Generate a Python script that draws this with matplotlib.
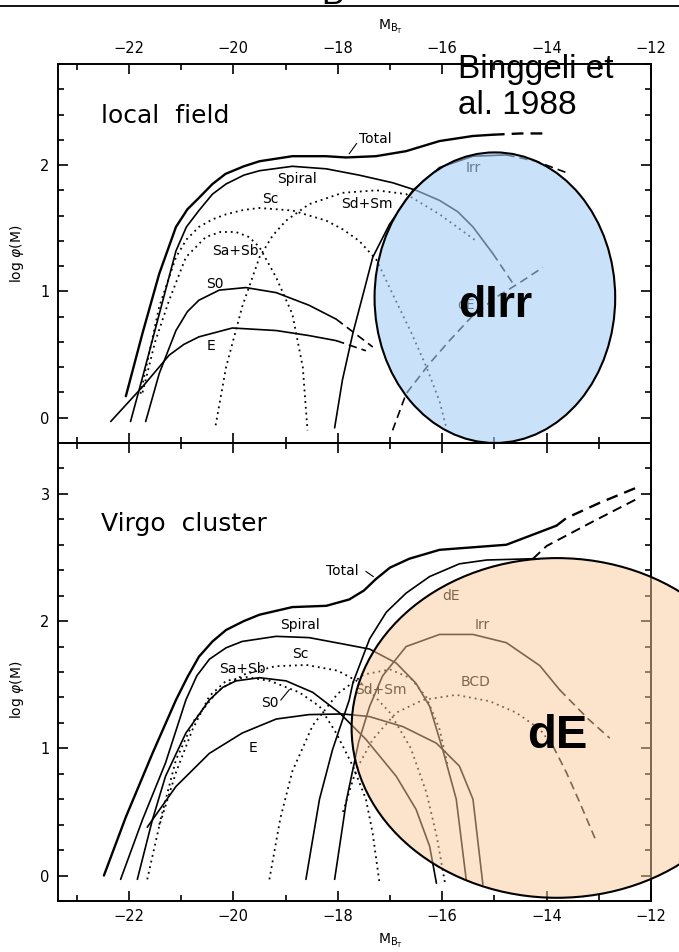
import matplotlib
matplotlib.use("Agg")
import matplotlib.pyplot as plt
from matplotlib.patches import Ellipse
from matplotlib.lines import Line2D
from matplotlib.ticker import MultipleLocator

plt.rcParams['font.family'] = ['DejaVu Sans']

# ---- local field (top panel): M_BT vs log phi(M) ----
lf_total_x = [-22.06, -21.74, -21.42, -21.10, -20.88, -20.66, -20.40, -20.15, -19.80, -19.50, -18.87, -18.23, -17.84, -17.27, -16.69, -16.05, -15.41, -15.03]
lf_total_y = [0.17, 0.67, 1.14, 1.51, 1.65, 1.74, 1.85, 1.93, 1.99, 2.03, 2.07, 2.07, 2.06, 2.07, 2.11, 2.19, 2.23, 2.24]
lf_total_dx = [-15.03, -14.5, -14.03]
lf_total_dy = [2.24, 2.25, 2.25]

lf_spiral_x = [-21.97, -21.74, -21.42, -21.10, -20.90, -20.66, -20.40, -20.14, -19.80, -19.50, -18.87, -18.22, -17.59, -16.95, -16.50, -16.05, -15.70, -15.41, -15.03]
lf_spiral_y = [-0.03, 0.32, 0.82, 1.32, 1.51, 1.64, 1.77, 1.85, 1.92, 1.955, 1.99, 1.97, 1.92, 1.86, 1.80, 1.72, 1.63, 1.51, 1.30]
lf_spiral_dx = [-15.03, -14.64]
lf_spiral_dy = [1.30, 1.06]

lf_sc_x = [-21.78, -21.42, -21.10, -20.90, -20.66, -20.40, -20.14, -19.80, -19.50, -18.87, -18.22, -17.90, -17.59, -17.26, -16.95, -16.60, -16.30, -16.05, -15.92]
lf_sc_y = [0.19, 0.88, 1.27, 1.41, 1.51, 1.57, 1.61, 1.645, 1.66, 1.64, 1.56, 1.49, 1.40, 1.25, 0.98, 0.68, 0.40, 0.13, -0.08]

lf_sab_x = [-21.74, -21.50, -21.23, -20.91, -20.53, -20.25, -19.95, -19.70, -19.50, -19.18, -18.87, -18.67, -18.58]
lf_sab_y = [0.20, 0.60, 0.93, 1.27, 1.43, 1.47, 1.47, 1.43, 1.35, 1.11, 0.82, 0.40, -0.10]

lf_sdsm_x = [-20.34, -20.14, -19.83, -19.50, -19.25, -18.99, -18.55, -17.91, -17.26, -16.69, -16.05, -15.35]
lf_sdsm_y = [-0.06, 0.40, 0.88, 1.27, 1.44, 1.56, 1.69, 1.78, 1.80, 1.77, 1.61, 1.40]

lf_s0_x = [-21.68, -21.42, -21.10, -20.88, -20.66, -20.27, -19.76, -19.18, -18.55, -18.03]
lf_s0_y = [-0.03, 0.35, 0.69, 0.84, 0.93, 1.01, 1.03, 0.99, 0.89, 0.78]
lf_s0_dx = [-18.03, -17.33]
lf_s0_dy = [0.78, 0.56]

lf_e_x = [-22.35, -21.74, -21.23, -20.95, -20.66, -20.02, -19.18, -18.55, -18.03]
lf_e_y = [-0.03, 0.245, 0.495, 0.58, 0.64, 0.71, 0.69, 0.65, 0.61]
lf_e_dx = [-18.03, -17.46]
lf_e_dy = [0.61, 0.53]

lf_irr_x = [-18.06, -17.91, -17.71, -17.50, -17.33, -17.01, -16.56, -16.05, -15.41, -14.77]
lf_irr_y = [-0.08, 0.30, 0.67, 1.00, 1.27, 1.53, 1.80, 1.98, 2.07, 2.08]
lf_irr_dx = [-14.77, -14.20, -13.62]
lf_irr_dy = [2.08, 2.03, 1.94]

lf_de_dx = [-16.95, -16.69, -16.24, -15.86, -15.41, -14.96, -14.51, -14.07]
lf_de_dy = [-0.10, 0.19, 0.43, 0.61, 0.81, 0.955, 1.07, 1.19]

# ---- Virgo cluster (bottom panel) ----
vc_total_x = [-22.48, -22.06, -21.55, -21.10, -20.88, -20.66, -20.40, -20.14, -19.80, -19.50, -18.87, -18.22, -17.78, -17.50, -17.27, -17.00, -16.63, -16.05, -15.41, -14.77, -14.13, -13.81]
vc_total_y = [0.0, 0.46, 0.96, 1.38, 1.56, 1.72, 1.84, 1.93, 2.00, 2.05, 2.11, 2.12, 2.17, 2.24, 2.33, 2.42, 2.49, 2.56, 2.58, 2.60, 2.70, 2.75]
vc_total_dx = [-13.81, -13.62, -12.98, -12.27]
vc_total_dy = [2.75, 2.81, 2.93, 3.05]

vc_spiral_x = [-22.16, -21.74, -21.30, -20.91, -20.70, -20.46, -20.14, -19.83, -19.18, -18.55, -17.90, -17.39, -16.88, -16.50, -16.24, -15.99, -15.73, -15.54]
vc_spiral_y = [-0.03, 0.44, 0.885, 1.38, 1.57, 1.70, 1.79, 1.84, 1.88, 1.87, 1.82, 1.78, 1.67, 1.51, 1.33, 0.99, 0.60, -0.03]

vc_s0_x = [-21.84, -21.55, -21.30, -20.91, -20.46, -20.20, -19.95, -19.50, -18.99, -18.48, -17.97, -17.46, -16.88, -16.50, -16.24, -16.11]
vc_s0_y = [-0.03, 0.44, 0.78, 1.12, 1.38, 1.48, 1.53, 1.555, 1.53, 1.44, 1.28, 1.07, 0.78, 0.52, 0.23, -0.06]

vc_e_x = [-21.65, -21.10, -20.46, -19.83, -19.18, -18.55, -17.91, -17.40, -16.75, -16.11, -15.67, -15.41, -15.22]
vc_e_y = [0.38, 0.70, 0.96, 1.12, 1.23, 1.265, 1.27, 1.25, 1.17, 1.04, 0.86, 0.60, -0.07]

vc_sab_x = [-21.65, -21.42, -21.10, -20.78, -20.46, -20.14, -19.76, -19.30, -18.74, -18.35, -18.03, -17.71, -17.46, -17.33, -17.20]
vc_sab_y = [-0.03, 0.39, 0.81, 1.15, 1.41, 1.53, 1.56, 1.53, 1.44, 1.33, 1.12, 0.86, 0.60, 0.33, -0.06]

vc_sc_x = [-21.42, -21.10, -20.75, -20.30, -19.80, -19.20, -18.60, -18.00, -17.50, -17.00, -16.60, -16.30, -16.10, -15.95]
vc_sc_y = [0.40, 0.91, 1.22, 1.45, 1.58, 1.645, 1.655, 1.61, 1.50, 1.28, 1.00, 0.65, 0.30, -0.05]

vc_sdsm_x = [-19.31, -19.10, -18.87, -18.48, -18.00, -17.50, -17.00, -16.60, -16.30, -16.05, -15.90]
vc_sdsm_y = [-0.03, 0.45, 0.82, 1.18, 1.43, 1.58, 1.62, 1.55, 1.40, 1.15, 0.88]

vc_bcd_x = [-17.90, -17.65, -17.33, -16.88, -16.37, -15.73, -15.09, -14.58, -14.13, -13.88]
vc_bcd_y = [0.50, 0.83, 1.07, 1.28, 1.38, 1.42, 1.37, 1.28, 1.15, 1.02]
vc_bcd_dx = [-13.88, -13.62, -13.36, -13.07]
vc_bcd_dy = [1.02, 0.81, 0.57, 0.29]

vc_irr_x = [-18.06, -17.83, -17.60, -17.39, -17.14, -16.69, -16.05, -15.41, -14.77, -14.13, -13.75]
vc_irr_y = [-0.03, 0.60, 1.05, 1.33, 1.57, 1.80, 1.895, 1.895, 1.83, 1.65, 1.46]
vc_irr_dx = [-13.75, -13.20, -12.79]
vc_irr_dy = [1.46, 1.23, 1.08]

vc_de_x = [-18.61, -18.35, -18.10, -17.78, -17.71, -17.39, -17.07, -16.69, -16.24, -15.67, -15.15, -14.26]
vc_de_y = [-0.03, 0.60, 0.99, 1.38, 1.515, 1.86, 2.07, 2.22, 2.35, 2.45, 2.48, 2.49]
vc_de_dx = [-14.26, -14.00, -13.17, -12.27]
vc_de_dy = [2.49, 2.59, 2.77, 2.96]

# highlighted regions (center M, center log phi, width, height)
dirr_region = (-14.99, 0.95, 4.61, 2.30)
de_region = (-13.80, 1.16, 7.87, 2.67)

SOLID = '-'
DOT = (0, (1, 2.2))
DASH = (0, (5, 3))


def draw(ax, x, y, ls=SOLID, lw=1.2):
    ax.plot(x, y, color='black', lw=lw, linestyle=ls,
            solid_capstyle='round', solid_joinstyle='round')


def setup(ax, ymax, top_labels):
    ax.set_xlim(-23.36, -12.0)
    ax.set_ylim(-0.2, ymax)
    ax.set_facecolor('none')
    ax.xaxis.set_major_locator(MultipleLocator(2))
    ax.xaxis.set_minor_locator(MultipleLocator(1))
    ax.yaxis.set_major_locator(MultipleLocator(1))
    ax.yaxis.set_minor_locator(MultipleLocator(0.2))
    ax.tick_params(which='both', direction='in', top=True, right=True,
                   width=1.2, labelsize=10.5, pad=6)
    ax.tick_params(which='major', length=7)
    ax.tick_params(which='minor', length=4)
    ax.tick_params(axis='x', labeltop=top_labels, labelbottom=not top_labels)
    for s in ax.spines.values():
        s.set_linewidth(1.4)
    ax.set_ylabel(r'log $\varphi$(M)', fontsize=10)


fig = plt.figure(figsize=(6.79, 9.52), dpi=100)
ax1 = fig.add_axes([0.0854, 0.5347, 0.8733, 0.3981])
ax2 = fig.add_axes([0.0854, 0.0536, 0.8733, 0.4811])

# ---------- top panel ----------
setup(ax1, 2.8, True)
ax1.xaxis.set_label_position('top')
ax1.set_xlabel(r'$\mathrm{M_{B_T}}$', fontsize=10)
ax1.xaxis.set_label_coords(0.56, 1.09)
ax1.yaxis.set_label_coords(-0.054, 0.5)

draw(ax1, lf_total_x, lf_total_y, lw=1.7)
draw(ax1, lf_total_dx, lf_total_dy, DASH, lw=1.7)
draw(ax1, lf_spiral_x, lf_spiral_y)
draw(ax1, lf_spiral_dx, lf_spiral_dy, DASH)
draw(ax1, lf_sc_x, lf_sc_y, DOT, lw=1.3)
draw(ax1, lf_sab_x, lf_sab_y, DOT, lw=1.3)
draw(ax1, lf_sdsm_x, lf_sdsm_y, DOT, lw=1.3)
draw(ax1, lf_s0_x, lf_s0_y)
draw(ax1, lf_s0_dx, lf_s0_dy, DASH)
draw(ax1, lf_e_x, lf_e_y)
draw(ax1, lf_e_dx, lf_e_dy, DASH)
draw(ax1, lf_irr_x, lf_irr_y)
draw(ax1, lf_irr_dx, lf_irr_dy, DASH)
draw(ax1, lf_de_dx, lf_de_dy, DASH)

lbl = dict(fontsize=10, ha='center', va='center')
ax1.text(-22.54, 2.39, 'local  field', fontsize=18, va='center')
ax1.text(-17.28, 2.21, 'Total', **lbl)
ax1.plot([-17.78, -17.64], [2.09, 2.17], color='black', lw=0.8)
ax1.text(-18.78, 1.89, 'Spiral', **lbl)
ax1.text(-19.29, 1.73, 'Sc', **lbl)
ax1.text(-17.45, 1.69, 'Sd+Sm', **lbl)
ax1.text(-19.97, 1.32, 'Sa+Sb', **lbl)
ax1.text(-20.35, 1.06, 'S0', **lbl)
ax1.text(-20.43, 0.57, 'E', **lbl)
ax1.text(-15.40, 1.98, 'Irr', **lbl)
ax1.text(-15.54, 0.89, 'dE', **lbl)

cx, cy, w, h = dirr_region
ax1.add_patch(Ellipse((cx, cy), w, h, facecolor=(0.65, 0.81, 0.965, 0.6),
                      edgecolor='black', lw=1.5, zorder=10, clip_on=False))
ax1.text(cx, cy - 0.06, 'dIrr', fontsize=32, fontweight='bold',
         family='Liberation Sans', ha='center', va='center', zorder=12)

# ---------- bottom panel ----------
setup(ax2, 3.4, False)
ax2.set_xlabel(r'$\mathrm{M_{B_T}}$', fontsize=10)
ax2.xaxis.set_label_coords(0.56, -0.068)
ax2.yaxis.set_label_coords(-0.054, 0.46)

draw(ax2, vc_total_x, vc_total_y, lw=1.7)
draw(ax2, vc_total_dx, vc_total_dy, DASH, lw=1.7)
draw(ax2, vc_spiral_x, vc_spiral_y)
draw(ax2, vc_s0_x, vc_s0_y)
draw(ax2, vc_e_x, vc_e_y)
draw(ax2, vc_sab_x, vc_sab_y, DOT, lw=1.3)
draw(ax2, vc_sc_x, vc_sc_y, DOT, lw=1.3)
draw(ax2, vc_sdsm_x, vc_sdsm_y, DOT, lw=1.3)
draw(ax2, vc_bcd_x, vc_bcd_y, DOT, lw=1.3)
draw(ax2, vc_bcd_dx, vc_bcd_dy, DASH)
draw(ax2, vc_irr_x, vc_irr_y)
draw(ax2, vc_irr_dx, vc_irr_dy, DASH)
draw(ax2, vc_de_x, vc_de_y)
draw(ax2, vc_de_dx, vc_de_dy, DASH, lw=1.4)

ax2.text(-22.54, 2.76, 'Virgo  cluster', fontsize=18, va='center')
ax2.text(-17.91, 2.39, 'Total', **lbl)
ax2.plot([-17.46, -17.32], [2.39, 2.35], color='black', lw=0.8)
ax2.text(-18.72, 1.97, 'Spiral', **lbl)
ax2.text(-18.72, 1.74, 'Sc', **lbl)
ax2.text(-19.83, 1.62, 'Sa+Sb', **lbl)
ax2.text(-19.31, 1.36, 'S0', **lbl)
ax2.plot([-19.09, -18.93], [1.38, 1.46], color='black', lw=0.8)
ax2.text(-19.62, 1.00, 'E', **lbl)
ax2.text(-15.83, 2.20, 'dE', **lbl)
ax2.text(-15.23, 1.97, 'Irr', **lbl)
ax2.text(-15.36, 1.52, 'BCD', **lbl)
ax2.text(-17.17, 1.46, 'Sd+Sm', **lbl)

cx, cy, w, h = de_region
ax2.add_patch(Ellipse((cx, cy), w, h, facecolor=(0.984, 0.79, 0.60, 0.5),
                      edgecolor='black', lw=1.5, zorder=10, clip_on=False))
ax2.text(cx, cy - 0.06, 'dE', fontsize=34, fontweight='bold',
         family='Liberation Sans', ha='center', va='center', zorder=12)

# slide remnants: rule at the very top and clipped title letter
fig.add_artist(Line2D([0, 1], [1 - 6 / 952, 1 - 6 / 952], color='black', lw=1.3))
fig.text(321 / 679, 1 - 4 / 952, 'B', fontsize=24, family='Liberation Sans',
         va='baseline')

fig.text(458 / 679, 1 - 54 / 952, 'Binggeli et\nal. 1988', fontsize=24,
         family='Liberation Sans', va='top', ha='left', zorder=12)

fig.savefig('out.png', dpi=100)
